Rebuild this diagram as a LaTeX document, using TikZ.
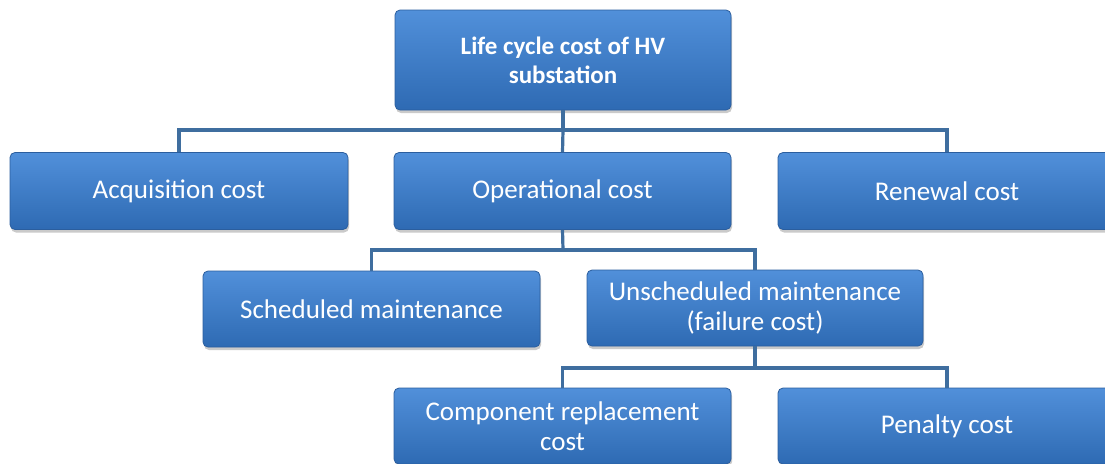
\documentclass[tikz,border=0pt]{standalone}
\usepackage{fontspec}
\setmainfont{Carlito}
\usetikzlibrary{shadows}
\definecolor{boxtop}{HTML}{5190DA}
\definecolor{boxbot}{HTML}{2E6AB3}
\definecolor{boxedge}{HTML}{2B5E9E}
\definecolor{linecol}{HTML}{3F6E9F}
\tikzset{
  costbox/.style={draw=boxedge, line width=0.8pt, rounded corners=5pt,
    top color=boxtop, bottom color=boxbot, text=white, align=center,
    font=\fontsize{27}{29.5}\selectfont, inner sep=0pt,
    drop shadow={shadow xshift=1pt, shadow yshift=-3pt, opacity=0.35, fill=black!60}},
  topbox/.style={costbox, font=\fontsize{25}{29}\selectfont\bfseries},
  conn/.style={draw=linecol, line width=3.2pt}
}
\begin{document}
\begin{tikzpicture}[x=1pt,y=-1pt]
\useasboundingbox (0,0) rectangle (1105,463);
% nodes
\node[topbox, minimum width=336pt, minimum height=100pt] (top) at (563,60) {Life cycle cost of HV\\substation};
\node[costbox, minimum width=338pt, minimum height=77pt] (acq) at (179,191) {Acquisition cost};
\node[costbox, minimum width=337pt, minimum height=77pt] (op) at (562.5,191) {Operational cost};
\node[costbox, minimum width=338pt, minimum height=77pt] (ren) at (947,191) {Renewal cost};
\node[costbox, minimum width=337pt, minimum height=76pt] (sch) at (371.5,309) {Scheduled maintenance};
\node[costbox, minimum width=336pt, minimum height=76pt] (uns) at (755,308) {Unscheduled maintenance\\(failure cost)};
\node[costbox, minimum width=337pt, minimum height=76pt] (comp) at (562.5,426) {Component replacement\\cost};
\node[costbox, minimum width=338pt, minimum height=76pt] (pen) at (947,426) {Penalty cost};
% bus coordinates
\coordinate (b1) at (563,130);
\coordinate (b2) at (563,250);
\coordinate (b3) at (755,368);
% connectors
\draw[conn] (top.south) -- (b1);
\draw[conn] (b1) -| (acq.north);
\draw[conn] (b1) -- (op.north);
\draw[conn] (b1) -| (ren.north);
\draw[conn] (op.south) -- (b2);
\draw[conn] (b2) -| (sch.north);
\draw[conn] (b2) -| (uns.north);
\draw[conn] (uns.south) -- (b3);
\draw[conn] (b3) -| (comp.north);
\draw[conn] (b3) -| (pen.north);
\end{tikzpicture}
\end{document}
